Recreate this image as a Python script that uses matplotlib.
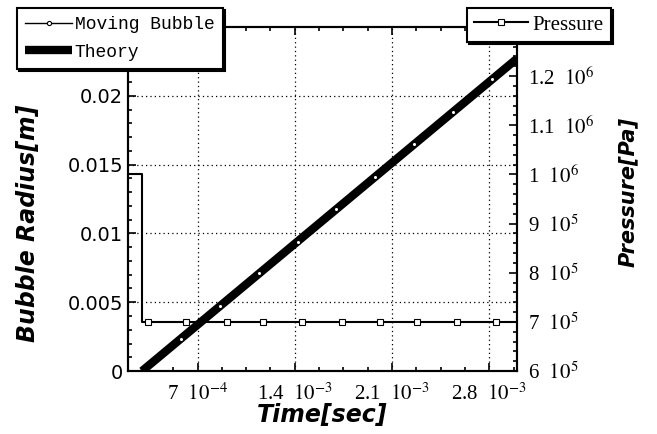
import matplotlib
matplotlib.use("Agg")
from matplotlib import pyplot as plt
from matplotlib.ticker import MultipleLocator, FixedLocator, FixedFormatter

# bubble radius, moving bubble model [s], [m]
time_bubble = [3.0e-4, 5.8e-4, 8.6e-4, 11.4e-4, 14.2e-4, 17.0e-4, 19.8e-4, 22.6e-4, 25.4e-4, 28.2e-4, 30.0e-4]
radius_bubble = [0.0, 0.0023, 0.0047, 0.0071, 0.0094, 0.0118, 0.0141, 0.0165, 0.0188, 0.0212, 0.0226]

# theory
time_theory = [3.0e-4, 30.0e-4]
radius_theory = [0.0, 0.0227]

# pressure [Pa]
time_p = [2.0e-4, 3.0e-4, 3.0e-4, 3.4e-4, 6.2e-4, 9.1e-4, 11.7e-4, 14.5e-4, 17.4e-4,
          20.1e-4, 22.8e-4, 25.7e-4, 28.5e-4, 30.0e-4]
pressure = [1.0e6, 1.0e6, 7.0e5, 7.0e5, 7.0e5, 7.0e5, 7.0e5, 7.0e5, 7.0e5,
            7.0e5, 7.0e5, 7.0e5, 7.0e5, 7.0e5]
p_marks = [3, 4, 5, 6, 7, 8, 9, 10, 11, 12]

xticks = [7e-4, 1.4e-3, 2.1e-3, 2.8e-3]
xtick_labels = [r"7  $10^{-4}$", r"1.4  $10^{-3}$", r"2.1  $10^{-3}$", r"2.8  $10^{-3}$"]
yticks = [0, 0.005, 0.01, 0.015, 0.02]
ytick_labels = ["0", "0.005", "0.01", "0.015", "0.02"]
pticks = [6e5, 7e5, 8e5, 9e5, 1.0e6, 1.1e6, 1.2e6]
ptick_labels = [r"6  $10^{5}$", r"7  $10^{5}$", r"8  $10^{5}$", r"9  $10^{5}$",
                r"1  $10^{6}$", r"1.1  $10^{6}$", r"1.2  $10^{6}$"]

plt.rcParams["mathtext.fontset"] = "stix"
serif = "Liberation Serif"

fig = plt.figure(figsize=(6.57, 4.34), dpi=100)
ax = fig.add_axes([0.195, 0.145, 0.592, 0.793])
ax2 = ax.twinx()

th, = ax.plot(time_theory, radius_theory, color="black", lw=6, solid_capstyle="butt")
mb, = ax.plot(time_bubble, radius_bubble, color="black", lw=1, marker="o", ms=3,
              mfc="white", mec="black", mew=0.8)
pr, = ax2.plot(time_p, pressure, color="black", lw=1.5, marker="s", ms=4.5,
               mfc="white", mec="black", mew=0.8, markevery=p_marks)

ax.set_xlim(2e-4, 3e-3)
ax.set_ylim(0, 0.025)
ax2.set_ylim(6e5, 1.3e6)

ax.xaxis.set_major_locator(FixedLocator(xticks))
ax.xaxis.set_major_formatter(FixedFormatter(xtick_labels))
ax.xaxis.set_minor_locator(MultipleLocator(1.75e-4))
ax.yaxis.set_major_locator(FixedLocator(yticks))
ax.yaxis.set_major_formatter(FixedFormatter(ytick_labels))
ax.yaxis.set_minor_locator(MultipleLocator(0.001))
ax2.yaxis.set_major_locator(FixedLocator(pticks))
ax2.yaxis.set_major_formatter(FixedFormatter(ptick_labels))
ax2.yaxis.set_minor_locator(MultipleLocator(2e4))

ax.tick_params(which="both", direction="in", top=True, color="black", width=1.2)
ax.tick_params(which="major", length=6)
ax.tick_params(axis="x", which="major", pad=9)
ax.tick_params(which="minor", length=3)
ax2.tick_params(which="both", direction="in", width=1.2)
ax2.tick_params(which="major", length=6, pad=8)
ax2.tick_params(which="minor", length=3)

for lab in ax.get_xticklabels():
    lab.set_fontfamily(serif)
    lab.set_fontsize(15)
for lab in ax2.get_yticklabels():
    lab.set_fontfamily(serif)
    lab.set_fontsize(15)
for lab in ax.get_yticklabels():
    lab.set_fontfamily("DejaVu Sans")
    lab.set_fontsize(14)

ax.grid(True, which="major", color="black", linestyle=(0, (1, 2.5)), linewidth=0.9)

for a in (ax, ax2):
    for s in a.spines.values():
        s.set_linewidth(1.5)

lab_kw = dict(fontweight="bold", fontstyle="italic", family="DejaVu Sans")
ax.set_ylabel("Bubble Radius[m]", fontsize=17, **lab_kw)
ax.yaxis.set_label_coords(-0.226, 0.43)
ax.set_xlabel("Time[sec]", fontsize=17, **lab_kw)
ax.xaxis.set_label_coords(0.50, -0.094)
ax2.set_ylabel("Pressure[Pa]", rotation=90, fontsize=15, **lab_kw)
ax2.yaxis.set_label_coords(1.26, 0.52)

shadow = {"color": "black", "alpha": 1.0, "ox": 1.5, "oy": -1.5}
leg1 = fig.legend([mb, th], ["Moving Bubble", "Theory"], loc="upper left",
                  bbox_to_anchor=(0.026, 0.982), bbox_transform=fig.transFigure,
                  prop={"family": "Liberation Mono", "size": 13},
                  handlelength=2.6, handletextpad=0.15, borderpad=0.45,
                  labelspacing=0.6, borderaxespad=0, fancybox=False,
                  edgecolor="black", framealpha=1, shadow=shadow, numpoints=1)
leg1.get_frame().set_linewidth(1.5)
leg2 = fig.legend([pr], ["Pressure"], loc="upper right",
                  bbox_to_anchor=(0.93, 0.982), bbox_transform=fig.transFigure,
                  prop={"family": serif, "size": 15},
                  handlelength=2.6, handletextpad=0.2, borderpad=0.35,
                  borderaxespad=0, fancybox=False, edgecolor="black",
                  framealpha=1, shadow=shadow, numpoints=1)
leg2.get_frame().set_linewidth(1.5)

fig.savefig("out.png", dpi=100)
